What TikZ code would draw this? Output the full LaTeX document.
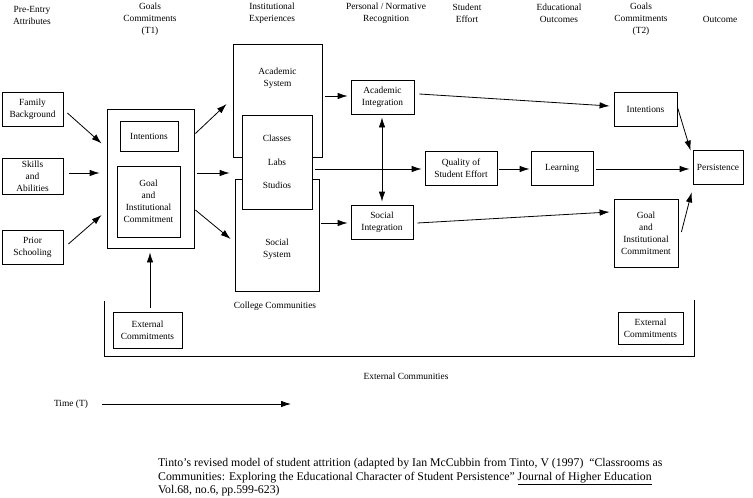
\documentclass[tikz,border=0pt]{standalone}
\usepackage{fontspec}
\setmainfont{Liberation Serif}
\usetikzlibrary{arrows.meta}

\tikzset{
  box/.style={draw, line width=0.8pt, align=center, inner sep=0pt},
  arr/.style={-{Latex[length=10pt,width=6.5pt]}, line width=0.8pt},
  dblarr/.style={{Latex[length=10pt,width=6.5pt]}-{Latex[length=10pt,width=6.5pt]}, line width=0.8pt},
  head/.style={align=center, inner sep=0pt},
}

\begin{document}
\begin{tikzpicture}[x=1pt, y=-1pt, font=\fontsize{9.4}{12}\selectfont]
	\useasboundingbox (0,0) rectangle (753,498);

	% column headings
	\node[head] (hpre) at (32,15.5) {Pre-Entry\\Attributes};
	\node[head] (hgoalsa) at (150,19.5) {Goals\\Commitments\\(T1)};
	\node[head] (hinst) at (272,13.5) {Institutional\\Experiences};
	\node[head] (hpers) at (386,13.5) {Personal / Normative\\Recognition};
	\node[head] (heffort) at (467,13.5) {Student\\Effort};
	\node[head] (hedu) at (559,13.5) {Educational\\Outcomes};
	\node[head] (hgoalsb) at (641,19.5) {Goals\\Commitments\\(T2)};
	\node[head] (hout) at (720,19.5) {Outcome};

	% pre-entry attributes
	\node[box, minimum width=61pt, minimum height=34pt] (family) at (32.5,109) {Family\\Background};
	\node[box, minimum width=61pt, minimum height=36pt] (skills) at (32.5,176) {Skills\\and\\Abilities};
	\node[box, minimum width=61pt, minimum height=34pt] (prior) at (32.5,247) {Prior\\Schooling};

	% goals T1
	\node[box, minimum width=87pt, minimum height=139pt] (goalsa) at (150.5,178.5) {};
	\node[box, minimum width=58pt, minimum height=30pt] (intenta) at (149,136) {Intentions};
	\node[box, minimum width=63pt, minimum height=71pt] (goala) at (148.5,201.5) {Goal\\and\\Institutional\\Commitment};

	% institutional experiences
	\node[box, minimum width=89pt, minimum height=113pt] (acsys) at (277.5,100.5) {};
	\node[head] (acsystxt) at (277.5,78) {Academic\\System};
	\node[box, minimum width=84pt, minimum height=112pt] (socsys) at (277,235) {};
	\node[head] (socsystxt) at (277,249.5) {Social\\System};
	\node[box, fill=white, minimum width=70pt, minimum height=94pt] (classes) at (277,162) {Classes\\[11.5pt]Labs\\[11.5pt]Studios};
	\node[head] (college) at (275,306) {College Communities};

	% integration, effort, outcomes
	\node[box, minimum width=63pt, minimum height=34pt] (acint) at (382.5,97) {Academic\\Integration};
	\node[box, minimum width=62pt, minimum height=34pt] (socint) at (382,222) {Social\\Integration};
	\node[box, minimum width=72pt, minimum height=34pt] (quality) at (461,168) {Quality of\\Student Effort};
	\node[box, minimum width=62pt, minimum height=34pt] (learning) at (562,168) {Learning};

	% goals T2 and outcome
	\node[box, minimum width=63pt, minimum height=34pt] (intentb) at (645.5,109) {Intentions};
	\node[box, minimum width=64pt, minimum height=68pt] (goalb) at (646,233) {Goal\\and\\Institutional\\Commitment};
	\node[box, minimum width=50pt, minimum height=34pt] (persist) at (718,167) {Persistence};

	% external communities
	\node[box, minimum width=69pt, minimum height=36pt] (exta) at (147.5,330) {External\\Commitments};
	\node[box, minimum width=65pt, minimum height=32pt] (extb) at (650.5,328) {External\\Commitments};
	\draw[line width=0.8pt] (104,301) -- (104,356) -- (694,356) -- (694,300);
	\node[head] (extcom) at (406,376) {External Communities};

	% arrows
	\draw[arr] ([xshift=4pt,yshift=-4pt]family.east) -- ([xshift=-5pt,yshift=35pt]goalsa.west);
	\draw[arr] ([xshift=6pt,yshift=3pt]skills.east) -- ([xshift=-7pt,yshift=5.5pt]goalsa.west);
	\draw[arr] ([xshift=5pt,yshift=3pt]prior.east) -- ([xshift=-5pt,yshift=-36.5pt]goalsa.west);
	\draw[arr] ([xshift=1pt,yshift=45pt]goalsa.east) -- ([xshift=-6pt,yshift=-3.5pt]acsys.west);
	\draw[arr] ([xshift=3pt,yshift=5.5pt]goalsa.east) -- ([xshift=-12pt,yshift=-11pt]classes.west);
	\draw[arr] ([xshift=1pt,yshift=-31.5pt]goalsa.east) -- ([xshift=-4pt,yshift=-4pt]socsys.west);
	\draw[arr] ([xshift=2.5pt,yshift=4pt]exta.north) -- ([xshift=-0.5pt,yshift=-4pt]goalsa.south);

	\draw[arr] ([xshift=3pt,yshift=4.5pt]acsys.east) -- ([xshift=-3pt,yshift=1pt]acint.west);
	\draw[arr] ([xshift=2pt,yshift=12pt]socsys.east) -- ([xshift=-3pt,yshift=-1pt]socint.west);
	\draw[arr] ([xshift=3pt,yshift=-7pt]classes.east) -- ([xshift=-3pt,yshift=-1pt]quality.west);
	\draw[dblarr] ([xshift=-0.5pt,yshift=-3pt]acint.south) -- ([yshift=3pt]socint.north);

	\draw[arr] ([xshift=2pt,yshift=-1pt]quality.east) -- ([xshift=-1pt,yshift=-1pt]learning.west);
	\draw[arr] ([xshift=3pt,yshift=-1pt]learning.east) -- ([xshift=-3pt,yshift=-2pt]persist.west);
	\draw[arr] ([xshift=5pt,yshift=3pt]acint.east) -- ([xshift=-4pt,yshift=3pt]intentb.west);
	\draw[arr] ([xshift=4pt,yshift=-1pt]socint.east) -- ([xshift=-4pt,yshift=21pt]goalb.west);
	\draw[arr] ([yshift=2pt]intentb.east) -- ([xshift=-2pt,yshift=-1pt]persist.north west);
	\draw[arr] ([xshift=3pt,yshift=1pt]goalb.east) -- ([xshift=-1pt,yshift=-8pt]persist.south west);

	% time axis
	\node[head] (time) at (71,404) {Time (T)};
	\coordinate (timeend) at (291,404);
	\draw[arr] ([xshift=14pt]time.east) -- (timeend);

	% caption
	\node[anchor=north west, align=left, inner sep=0pt, font=\fontsize{11.8}{13.5}\selectfont] (caption) at (158,458)
	{Tinto’s revised model of student attrition (adapted by Ian McCubbin from Tinto, V (1997) \ “Classrooms as\\
	Communities: Exploring the Educational Character of Student Persistence” \underline{Journal of Higher Education}\\
	Vol.68, no.6, pp.599-623)};

\end{tikzpicture}
\end{document}
